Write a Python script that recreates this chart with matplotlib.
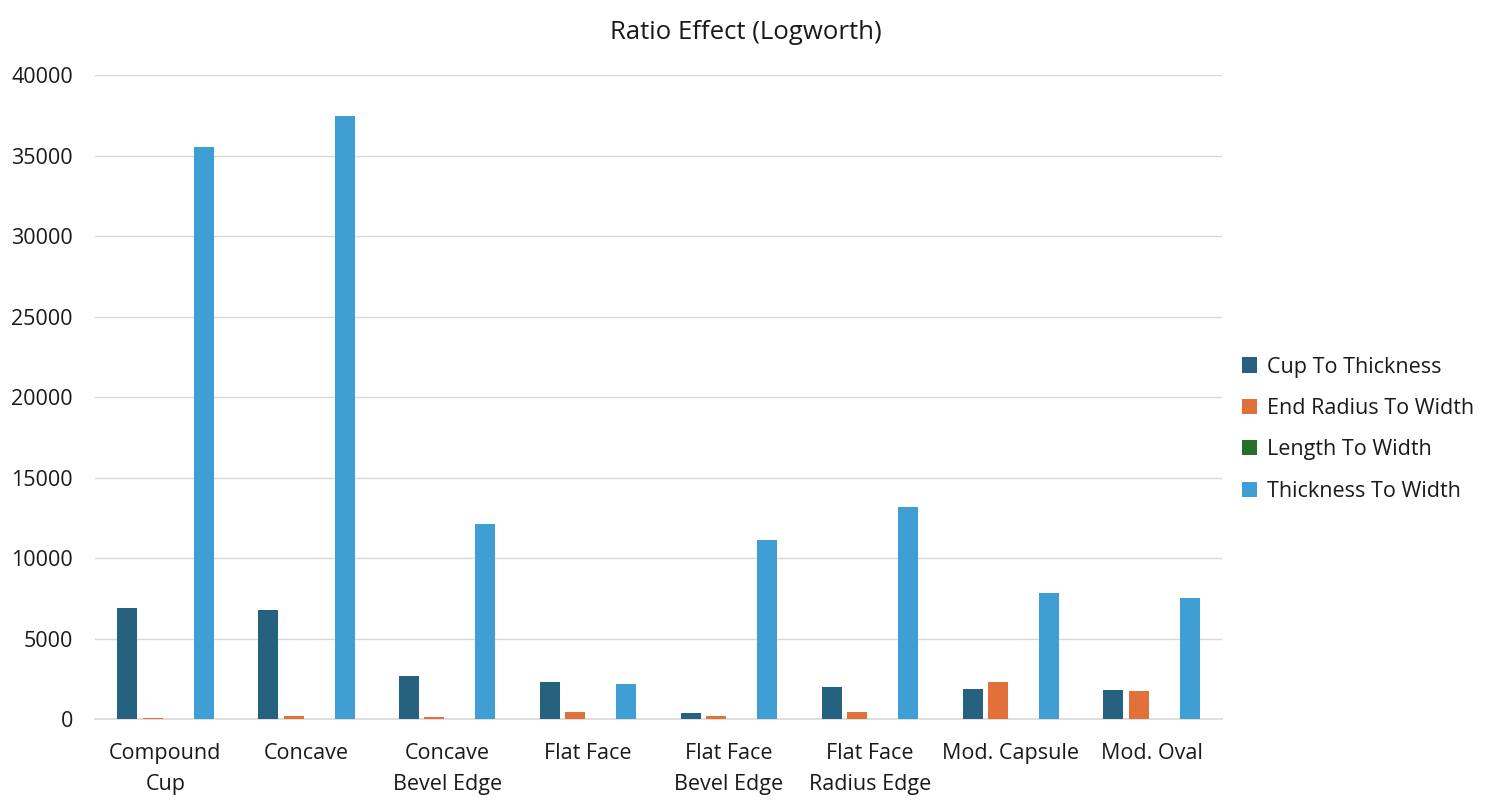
import numpy as np
import matplotlib
matplotlib.use('Agg')
import matplotlib.pyplot as plt

categories = ['Compound\nCup', 'Concave', 'Concave\nBevel Edge', 'Flat Face',
              'Flat Face\nBevel Edge', 'Flat Face\nRadius Edge', 'Mod. Capsule', 'Mod. Oval']
cup_to_thickness = [6900, 6800, 2700, 2300, 350, 2000, 1850, 1780]
end_radius_to_width = [60, 200, 150, 450, 200, 450, 2300, 1770]
length_to_width = [0, 0, 0, 0, 0, 0, 0, 0]
thickness_to_width = [35550, 37450, 12100, 2200, 11100, 13150, 7800, 7530]

series = [('Cup To Thickness', cup_to_thickness, '#276180'),
          ('End Radius To Width', end_radius_to_width, '#E2703A'),
          ('Length To Width', length_to_width, '#276F2A'),
          ('Thickness To Width', thickness_to_width, '#3F9FD4')]

plt.rcParams['font.family'] = ['Open Sans', 'DejaVu Sans']

fig = plt.figure(figsize=(14.91, 8.07), dpi=100)
ax = fig.add_axes([0.0637, 0.109, 0.756, 0.798])

x = np.arange(len(categories))
w = 0.142
step = 0.181
for i, (name, vals, col) in enumerate(series):
    ax.bar(x + (i - 1.5) * step, vals, width=w, color=col, label=name, zorder=3)

ax.set_xlim(-0.5, len(categories) - 0.5)
ax.set_ylim(0, 40000)
ax.set_yticks(range(0, 40001, 5000))
ax.set_xticks(x)
ax.set_xticklabels(categories, fontsize=15.5, color='#1a1a1a', linespacing=1.6)
ax.tick_params(axis='y', labelsize=15.5, labelcolor='#1a1a1a', length=0, pad=16)
ax.tick_params(axis='x', length=0, pad=17.5)
ax.grid(axis='y', color='#D9D9D9', linewidth=1, zorder=0)
for s in ['top', 'right', 'left']:
    ax.spines[s].set_visible(False)
ax.spines['bottom'].set_color('#D9D9D9')
ax.spines['bottom'].set_linewidth(1.2)

fig.text(0.5, 0.96, 'Ratio Effect (Logworth)', ha='center', va='center', fontsize=18.5, color='#1a1a1a')

ax.legend(loc='center left', bbox_to_anchor=(1.0, 0.45), frameon=False, fontsize=15.5,
          handlelength=0.7, handleheight=0.7, handletextpad=0.5, labelspacing=0.95,
          labelcolor='#1a1a1a')

fig.savefig('out.png', dpi=100)
